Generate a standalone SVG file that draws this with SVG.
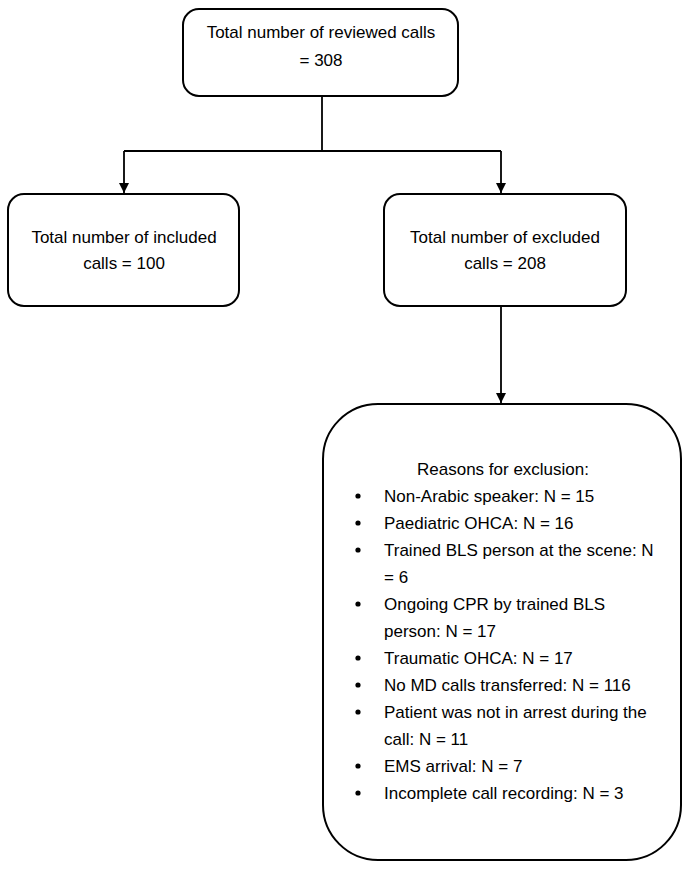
<svg xmlns="http://www.w3.org/2000/svg" width="692" height="870" viewBox="0 0 692 870">
<style>
.box{fill:#fff;stroke:#000;stroke-width:2}
.t{font-family:"Liberation Sans",Arial,sans-serif;font-size:17px;fill:#000}
.c{text-anchor:middle}
.ln{fill:none;stroke:#000;stroke-width:1.8}
</style>
<defs>
<marker id="ah" viewBox="0 0 10 10" refX="10" refY="5" markerWidth="10" markerHeight="10" markerUnits="userSpaceOnUse" orient="auto">
<path d="M0,0 L10,5 L0,10 z" fill="#000"/>
</marker>
</defs>
<rect width="692" height="870" fill="#fff"/>
<g id="connectors">
<path class="ln" d="M322,96 V151"/>
<path class="ln" d="M124,151 H501"/>
<path class="ln" d="M124,151 V193" marker-end="url(#ah)"/>
<path class="ln" d="M501,151 V193" marker-end="url(#ah)"/>
<path class="ln" d="M501,306 V403" marker-end="url(#ah)"/>
</g>
<g id="reviewed">
<rect class="box" x="183" y="9" width="275" height="87" rx="16"/>
<text class="t c" x="321" y="38">Total number of reviewed calls</text>
<text class="t c" x="321" y="66">= 308</text>
</g>
<g id="included">
<rect class="box" x="8" y="194" width="231" height="112" rx="16"/>
<text class="t c" x="124" y="243">Total number of included</text>
<text class="t c" x="124" y="269">calls = 100</text>
</g>
<g id="excluded">
<rect class="box" x="384" y="194" width="242" height="112" rx="16"/>
<text class="t c" x="505" y="243">Total number of excluded</text>
<text class="t c" x="505" y="269">calls = 208</text>
</g>
<g id="reasons">
<rect class="box" x="323" y="404" width="358" height="456" rx="55"/>
<text class="t c" x="503" y="475">Reasons for exclusion:</text>
<g fill="#000">
<circle cx="358" cy="496" r="2.6"/>
<circle cx="358" cy="523" r="2.6"/>
<circle cx="358" cy="550" r="2.6"/>
<circle cx="358" cy="604" r="2.6"/>
<circle cx="358" cy="658" r="2.6"/>
<circle cx="358" cy="685" r="2.6"/>
<circle cx="358" cy="712" r="2.6"/>
<circle cx="358" cy="766" r="2.6"/>
<circle cx="358" cy="793" r="2.6"/>
</g>
<text class="t" x="384" y="502">Non-Arabic speaker: N = 15</text>
<text class="t" x="384" y="529">Paediatric OHCA: N = 16</text>
<text class="t" x="384" y="556">Trained BLS person at the scene: N</text>
<text class="t" x="384" y="583">= 6</text>
<text class="t" x="384" y="610">Ongoing CPR by trained BLS</text>
<text class="t" x="384" y="637">person: N = 17</text>
<text class="t" x="384" y="664">Traumatic OHCA: N = 17</text>
<text class="t" x="384" y="691">No MD calls transferred: N = 116</text>
<text class="t" x="384" y="718">Patient was not in arrest during the</text>
<text class="t" x="384" y="745">call: N = 11</text>
<text class="t" x="384" y="772">EMS arrival: N = 7</text>
<text class="t" x="384" y="799">Incomplete call recording: N = 3</text>
</g>
</svg>
